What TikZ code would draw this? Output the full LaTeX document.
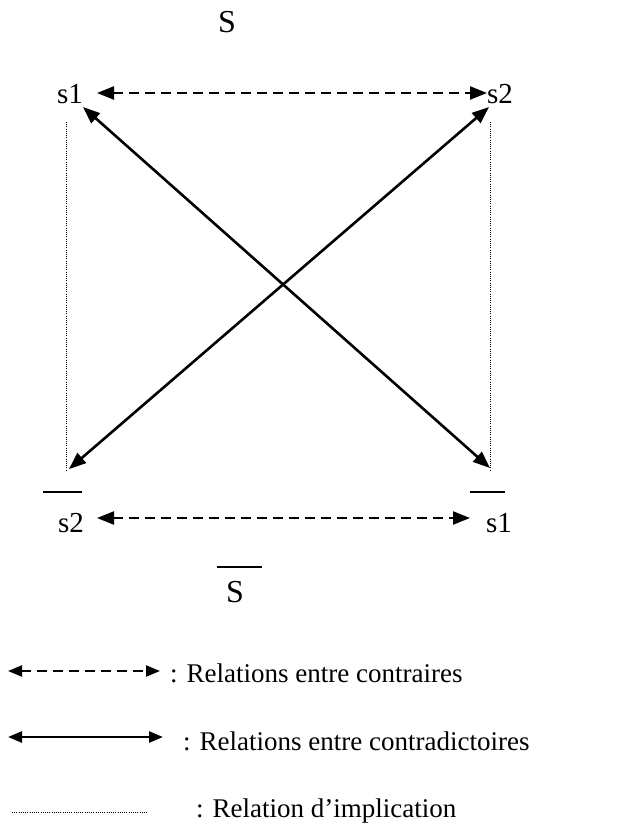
\documentclass[tikz,border=0pt]{standalone}
\usepackage{fontspec}
\setmainfont{Liberation Serif}
\usetikzlibrary{arrows.meta}
\begin{document}
\begin{tikzpicture}[x=1pt,y=-1pt,
 lbl/.style={inner sep=0pt,anchor=base,font=\fontsize{29}{33}\selectfont},
 big/.style={inner sep=0pt,anchor=base,font=\fontsize{32}{36}\selectfont},
 leg/.style={inner sep=0pt,anchor=base west,font=\fontsize{27}{31}\selectfont},
 both/.style={{Triangle[length=17pt,width=13pt]}-{Triangle[length=17pt,width=13pt]}},
 lboth/.style={{Triangle[length=14pt,width=11pt]}-{Triangle[length=14pt,width=11pt]}},
 contr/.style={line width=2.3pt,dash pattern=on 10pt off 6pt},
 contd/.style={line width=2.6pt},
 impl/.style={line width=1pt,dash pattern=on 1pt off 1.2pt},
 bar/.style={line width=2pt}]
\useasboundingbox (0,0) rectangle (626,823);
% labels
\node[big] (S) at (227,32) {S};
\node[lbl] (s1) at (70,103) {s1};
\node[lbl] (s2) at (500,103) {s2};
\node[lbl] (ns2) at (71,532) {s2};
\node[lbl] (ns1) at (499,532) {s1};
\node[big] (nS) at (235,602) {S};
% overbars
\coordinate (b1a) at (43,492); \coordinate (b1b) at (82,492);
\coordinate (b2a) at (470,492); \coordinate (b2b) at (505,492);
\coordinate (b3a) at (217,567); \coordinate (b3b) at (262,567);
\draw[bar] (b1a) -- (b1b);
\draw[bar] (b2a) -- (b2b);
\draw[bar] (b3a) -- (b3b);
% connector ends
\coordinate (t1) at (97,93); \coordinate (t2) at (487,93);
\coordinate (u1) at (97,518); \coordinate (u2) at (470,518);
\coordinate (d1a) at (83,107); \coordinate (d1b) at (490,468);
\coordinate (d2a) at (489,107); \coordinate (d2b) at (69,469);
\coordinate (v1a) at (66,122); \coordinate (v1b) at (66,470);
\coordinate (v2a) at (490,122); \coordinate (v2b) at (490,470);
\draw[contr,both] (t1) -- (t2);
\draw[contr,both] (u1) -- (u2);
\draw[contd,both] (d1a) -- (d1b);
\draw[contd,both] (d2a) -- (d2b);
\draw[impl] (v1a) -- (v1b);
\draw[impl] (v2a) -- (v2b);
% legend
\coordinate (l1a) at (8,671); \coordinate (l1b) at (160,671);
\coordinate (l2a) at (8,737); \coordinate (l2b) at (163,737);
\coordinate (l3a) at (12,812); \coordinate (l3b) at (148,812);
\draw[contr,lboth] (l1a) -- (l1b);
\draw[contd,lboth] (l2a) -- (l2b);
\draw[impl] (l3a) -- (l3b);
\node[leg] (t1l) at (170,682) {: Relations entre contraires};
\node[leg] (t2l) at (183,750) {: Relations entre contradictoires};
\node[leg] (t3l) at (196,817) {: Relation d’implication};
\end{tikzpicture}
\end{document}
